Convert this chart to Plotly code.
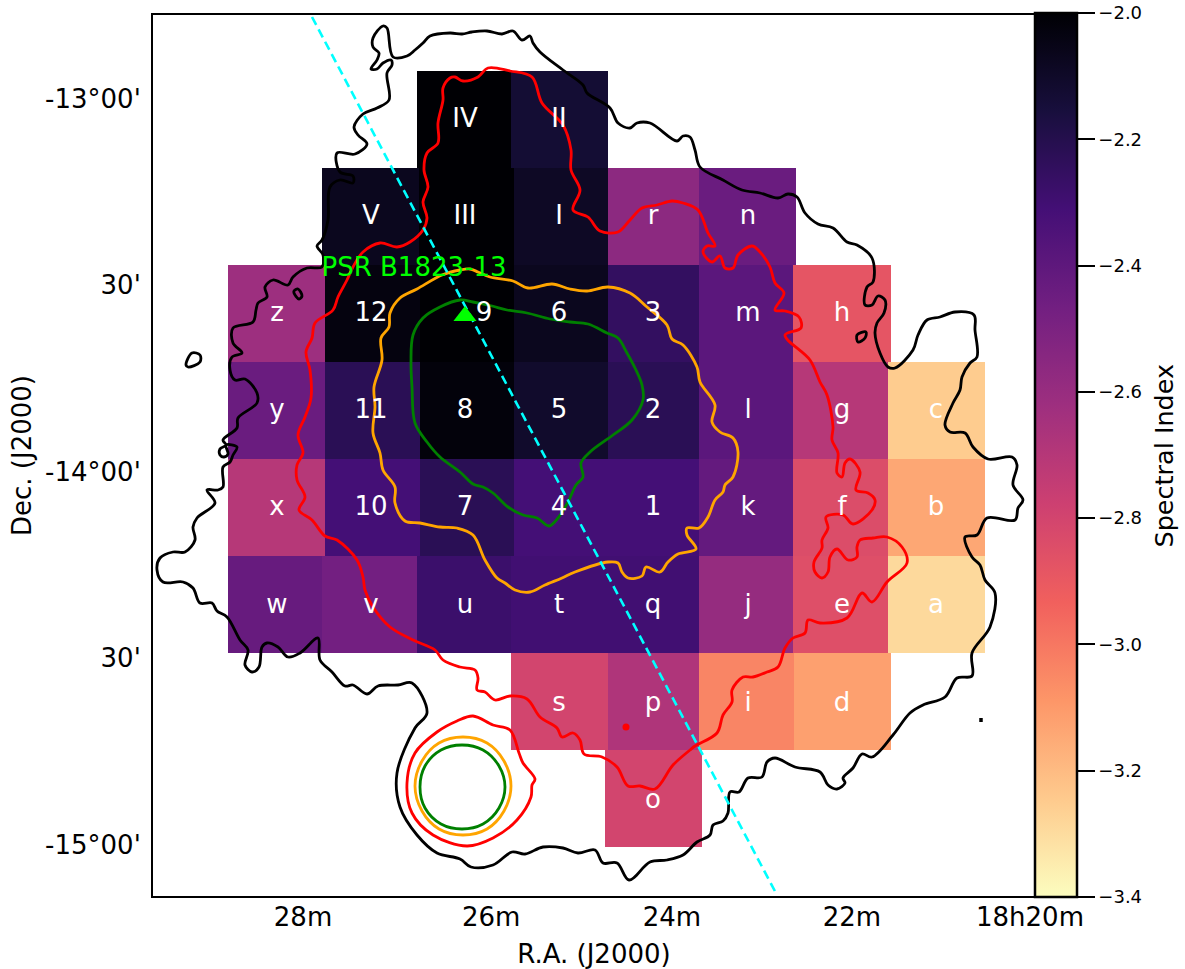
import plotly.graph_objects as go

# Values: (column, row) on the map's own grid,
# calibrated to sky coordinates by ra_of() / dec_of() below.
black_main = [(450,33),(430,36),(423,43),(415,50),(407,56),(393,57),(387,28),(383,26),(373,38),(373,47),(379,53),(377,60),(371,69),(377,69),(383,63),(391,60),(392,65),(387,73),(389,100),(377,108),(363,114),(354,127),(358,135),(367,144),(355,154),(337,153),(340,172),(353,176),(353,183),(340,180),(330,187),(328,220),(322,240),(317,246),(323,255),(322,267),(307,268),(293,277),(288,285),(273,280),(265,287),(267,297),(258,303),(256,310),(253,322),(233,328),(233,343),(242,353),(232,357),(230,370),(235,380),(245,379),(257,393),(257,403),(238,418),(237,428),(223,440),(226,445),(220,449),(220,455),(224,457),(228,454),(226,445),(237,447),(233,455),(230,462),(223,467),(223,487),(218,490),(207,490),(215,503),(197,518),(193,527),(195,540),(185,552),(173,552),(160,558),(157,570),(163,582),(183,582),(193,588),(200,603),(212,603),(217,611),(227,617),(240,640),(248,650),(245,665),(252,672),(259,667),(262,647),(267,643),(278,647),(288,657),(300,653),(318,638),(320,660),(332,672),(345,686),(353,685),(367,694),(378,686),(398,685),(412,683),(427,713),(415,728),(397,773),(400,807),(417,835),(437,853),(460,859),(471,867),(493,865),(512,852),(525,854),(543,847),(563,848),(578,853),(595,850),(603,863),(617,863),(629,880),(650,862),(667,860),(683,855),(697,842),(710,835),(713,825),(723,821),(728,813),(730,792),(739,792),(748,778),(762,777),(767,762),(775,758),(795,767),(820,772),(828,785),(837,789),(845,783),(843,778),(853,768),(862,754),(872,757),(893,735),(910,713),(923,705),(945,697),(957,678),(972,676),(972,653),(990,627),(995,593),(985,580),(980,565),(972,557),(965,537),(977,535),(987,518),(1015,520),(1018,508),(1023,500),(1013,485),(1017,465),(1012,457),(988,459),(973,447),(965,433),(950,432),(945,425),(953,403),(960,390),(962,377),(970,363),(977,357),(975,330),(974,315),(955,312),(940,317),(927,320),(918,335),(913,350),(895,368),(888,367),(880,353),(875,333),(877,323),(884,313),(885,300),(878,296),(872,305),(865,305),(867,287),(873,282),(872,258),(857,245),(847,242),(833,228),(818,224),(805,213),(797,197),(788,194),(778,198),(760,193),(742,190),(723,180),(700,167),(695,150),(690,137),(683,136),(677,141),(650,123),(637,123),(630,128),(618,123),(610,108),(587,93),(583,85),(563,70),(540,52),(533,43),(530,36),(522,40),(513,31),(502,34),(487,31),(472,32),(462,34),(450,33)]
black_loop_a = [(294,291),(298,289),(302,296),(299,299),(294,293),(294,291)]
black_loop_b = [(192,353),(200,355),(200,362),(188,367),(186,365),(192,353)]
black_loop_c = [(857,335),(866,332),(865,338),(858,342),(857,335)]
black_speck = [(981,718),(981,722)]

red_main = [(450,78),(443,88),(443,100),(438,123),(438,143),(427,153),(424,170),(428,187),(423,202),(427,218),(423,230),(410,242),(397,247),(380,243),(363,252),(353,267),(347,280),(338,297),(333,310),(315,323),(312,338),(306,352),(310,370),(311,398),(305,417),(298,435),(303,453),(297,465),(297,480),(305,497),(299,510),(312,520),(325,536),(337,540),(357,560),(363,577),(365,590),(373,607),(390,627),(413,640),(435,650),(443,660),(460,667),(475,670),(478,678),(477,690),(485,692),(495,700),(510,696),(527,699),(540,717),(557,728),(562,737),(573,733),(580,740),(584,754),(602,757),(617,767),(628,786),(640,786),(655,789),(673,765),(690,750),(695,746),(717,733),(723,715),(732,702),(732,690),(743,677),(753,677),(767,672),(778,667),(785,648),(793,638),(805,633),(808,620),(820,623),(847,618),(862,593),(872,602),(887,582),(907,563),(902,547),(887,537),(873,538),(860,540),(857,547),(857,557),(848,560),(837,549),(830,557),(828,572),(822,578),(815,572),(814,562),(822,548),(822,540),(828,528),(826,517),(843,515),(853,524),(872,510),(875,500),(868,493),(856,490),(860,472),(850,459),(845,463),(842,477),(837,473),(838,453),(832,440),(833,427),(827,395),(820,382),(810,360),(785,335),(801,328),(799,317),(785,311),(775,310),(784,293),(775,283),(770,267),(760,252),(752,246),(738,255),(733,268),(725,268),(720,256),(712,262),(703,252),(707,246),(715,246),(708,233),(698,210),(683,203),(672,201),(657,205),(642,208),(630,220),(618,232),(600,231),(588,217),(573,210),(580,190),(571,170),(571,150),(563,125),(542,103),(532,77),(510,71),(488,68),(478,77),(463,81),(455,77),(450,78)]
red_south = [(473,716),(457,721),(437,732),(415,753),(407,783),(412,813),(433,835),(467,846),(493,838),(517,820),(531,797),(532,785),(535,779),(523,763),(519,753),(510,730),(493,725),(473,716)]
red_spot = [(626,727)]

orange_main = [(470,269),(478,272),(490,277),(513,281),(528,288),(552,284),(570,289),(587,291),(608,287),(630,293),(647,307),(667,325),(672,339),(683,345),(697,367),(700,382),(715,405),(712,422),(720,432),(733,438),(738,452),(733,477),(725,485),(723,492),(715,500),(708,517),(699,528),(687,528),(687,535),(696,549),(678,554),(668,562),(660,572),(646,567),(642,576),(628,578),(622,572),(618,563),(608,562),(575,572),(562,578),(545,585),(530,592),(515,590),(505,583),(497,578),(485,560),(473,535),(457,528),(440,527),(420,523),(405,521),(395,503),(395,487),(383,470),(380,453),(373,433),(375,407),(374,387),(382,360),(381,338),(389,327),(390,313),(400,298),(417,289),(442,275),(460,270),(470,269)]
orange_south = [(463,737),(487,743),(504,761),(511,786),(504,811),(487,829),(463,835),(439,829),(422,811),(415,786),(422,761),(439,743),(463,737)]

green_main = [(460,300),(473,302),(492,306),(507,310),(527,313),(550,319),(570,322),(588,324),(607,333),(618,338),(627,353),(635,368),(642,385),(643,400),(632,420),(613,435),(590,452),(581,463),(583,477),(576,485),(568,502),(558,518),(549,526),(537,518),(523,515),(508,507),(493,493),(483,487),(473,484),(460,472),(440,457),(427,442),(415,423),(412,387),(411,363),(413,335),(423,318),(440,307),(460,300)]
green_south = [(462,745),(483,750),(499,766),(505,787),(499,808),(483,824),(462,829),(441,824),(425,808),(420,787),(425,766),(441,750),(462,745)]

cut_line = [(312,17),(777,895)]
pulsar_position = [(465,316)]
pulsar_name = "PSR B1823-13"
pulsar_label_at = [(414,269)]

# Spectral index cells, one row per declination band
row_edges = [71,168,265,362,459,556,653,750,847]
cell_edges = [
    [417,511,608],
    [322,419,514,608,699,796],
    [228,325,420,514,608,699,793,891],
    [228,325,420,514,608,699,793,888,985],
    [228,325,420,514,608,699,793,888,985],
    [228,322,417,511,606,699,793,888,985],
    [511,608,699,794,891],
    [605,702],
]
cell_values = [
    [-2.00,-2.13],
    [-2.07,-2.00,-2.09,-2.56,-2.44],
    [-2.62,-2.03,-2.00,-2.07,-2.25,-2.39,-2.88],
    [-2.44,-2.22,-2.02,-2.11,-2.22,-2.39,-2.70,-3.25],
    [-2.70,-2.31,-2.22,-2.31,-2.31,-2.42,-2.84,-3.14],
    [-2.43,-2.47,-2.28,-2.30,-2.30,-2.59,-2.85,-3.29],
    [-2.80,-2.68,-3.04,-3.12],
    [-2.80],
]
cell_names = [
    ["IV","II"],
    ["V","III","I","r","n"],
    ["z","12","9","6","3","m","h"],
    ["y","11","8","5","2","l","g","c"],
    ["x","10","7","4","1","k","f","b"],
    ["w","v","u","t","q","j","e","a"],
    ["s","p","i","d"],
    ["o"],
]
name_columns = [
    [465,559],
    [371,465,559,653,748],
    [277,371,484,559,653,748,842],
    [277,371,465,559,653,748,842,936],
    [277,371,465,559,653,748,842,936],
    [277,371,465,559,653,748,842,936],
    [559,653,748,842],
    [653],
]
name_rows = [120,217,314,411,508,606,704,801]

ra_ticks = [28.0,25.93,23.94,21.96,20.0]
ra_labels = ["28m","26m","24m","22m","18h20m"]
dec_ticks = [-13.0,-13.5,-14.0,-14.5,-15.0]
dec_labels = ["-13°00'","30'","-14°00'","30'","-15°00'"]
cbar_ticks = [-3.4,-3.2,-3.0,-2.8,-2.6,-2.4,-2.2,-2.0]


def ra_of(col):
    return 28.0 - (col - 303.0) / 90.875


def dec_of(row):
    return -13.0 - (row - 98.5) / 373.0


def ras(points):
    return [ra_of(p[0]) for p in points]


def decs(points):
    return [dec_of(p[1]) for p in points]


fig = go.Figure()

for i, vals in enumerate(cell_values):
    fig.add_trace(go.Heatmap(
        x=[ra_of(c) for c in cell_edges[i]],
        y=[dec_of(row_edges[i]), dec_of(row_edges[i + 1])],
        z=[vals],
        coloraxis="coloraxis",
        hoverinfo="skip",
    ))

for pts, colour, w in [
    (black_main, "black", 2.8), (black_loop_a, "black", 2.8), (black_loop_b, "black", 2.8),
    (black_loop_c, "black", 2.8), (black_speck, "black", 3.5),
    (red_main, "red", 2.8), (red_south, "red", 2.8),
    (orange_main, "orange", 2.8), (orange_south, "orange", 2.8),
    (green_main, "green", 2.8), (green_south, "green", 2.8),
]:
    fig.add_trace(go.Scatter(
        x=ras(pts), y=decs(pts), mode="lines",
        line=dict(color=colour, width=w, shape="spline", smoothing=1.0),
        showlegend=False, hoverinfo="skip",
    ))

fig.add_trace(go.Scatter(
    x=ras(red_spot), y=decs(red_spot), mode="markers",
    marker=dict(color="red", size=7), showlegend=False, hoverinfo="skip",
))
fig.add_trace(go.Scatter(
    x=ras(cut_line), y=decs(cut_line), mode="lines",
    line=dict(color="cyan", width=2.6, dash="9px,5px"),
    showlegend=False, hoverinfo="skip",
))
fig.add_trace(go.Scatter(
    x=ras(pulsar_position), y=decs(pulsar_position), mode="markers",
    marker=dict(color="lime", size=20, symbol="triangle-up"),
    showlegend=False, hoverinfo="skip",
))

label_x, label_y, label_t = [], [], []
for i, names in enumerate(cell_names):
    for name, col in zip(names, name_columns[i]):
        label_x.append(ra_of(col))
        label_y.append(dec_of(name_rows[i]))
        label_t.append(name)
fig.add_trace(go.Scatter(
    x=label_x, y=label_y, text=label_t, mode="text",
    textposition="middle center",
    textfont=dict(family="DejaVu Sans", size=26, color="white"),
    showlegend=False, hoverinfo="skip",
))
fig.add_trace(go.Scatter(
    x=ras(pulsar_label_at), y=decs(pulsar_label_at), text=[pulsar_name], mode="text",
    textposition="middle center",
    textfont=dict(family="DejaVu Sans", size=26, color="lime"),
    showlegend=False, hoverinfo="skip",
))

fig.update_layout(
    width=1185, height=969,
    margin=dict(l=153, r=150, t=15, b=73, autoexpand=False),
    paper_bgcolor="white", plot_bgcolor="white",
    font=dict(family="DejaVu Sans", color="black", size=26),
    showlegend=False,
    coloraxis=dict(
        cmin=-3.4, cmax=-2.0, colorscale="Magma_r",
        colorbar=dict(
            x=1.0, xanchor="left", xpad=0, y=-0.0011, yanchor="bottom", ypad=0,
            len=1.0034, lenmode="fraction", thickness=42, thicknessmode="pixels",
            outlinecolor="black", outlinewidth=2.5,
            ticks="outside", ticklen=17, tickwidth=1.5, tickcolor="black",
            tickvals=cbar_ticks, tickformat=".1f",
            tickfont=dict(family="DejaVu Sans", size=18, color="black"),
        ),
    ),
    xaxis=dict(
        range=[ra_of(153), ra_of(1035)], tickmode="array",
        tickvals=ra_ticks, ticktext=ra_labels, ticks="", showgrid=False, zeroline=False,
        showline=True, mirror=True, linecolor="black", linewidth=2,
        tickfont=dict(family="DejaVu Sans", size=26, color="black"),
        ticklabelstandoff=-3,
        title=dict(text="R.A. (J2000)", standoff=14,
                   font=dict(family="DejaVu Sans", size=26, color="black")),
    ),
    yaxis=dict(
        range=[dec_of(896), dec_of(15)], tickmode="array",
        tickvals=dec_ticks, ticktext=dec_labels, ticks="", showgrid=False, zeroline=False,
        showline=True, mirror=True, linecolor="black", linewidth=2,
        tickfont=dict(family="DejaVu Sans", size=26, color="black"),
        ticklabelstandoff=5,
        title=dict(text="Dec. (J2000)", standoff=6,
                   font=dict(family="DejaVu Sans", size=26, color="black")),
    ),
    annotations=[dict(
        text="Spectral Index", textangle=-90, showarrow=False,
        xref="paper", yref="paper", x=(1163 - 153) / (1035 - 153), y=0.5,
        xanchor="center", yanchor="middle",
        font=dict(family="DejaVu Sans", size=25.5, color="black"),
    )],
)

fig.write_html(
    "out.html",
    config=dict(displayModeBar=False),
    post_script="document.body.style.margin='0';document.body.style.overflow='hidden';",
)
